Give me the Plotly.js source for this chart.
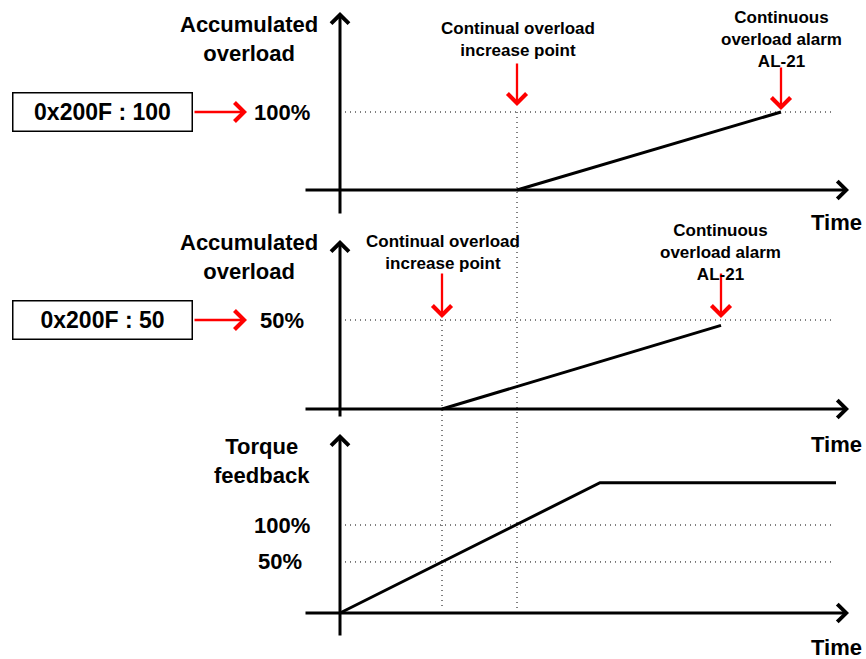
<!DOCTYPE html>
<html><head><meta charset="utf-8">
<script src="https://cdn.plot.ly/plotly-3.0.1.min.js"></script>
<style>html,body{margin:0;padding:0;background:#fff}#chart{width:866px;height:659px}</style>
</head><body><div id="chart"></div>
<script>
// ---------------- data ----------------
// time in schematic units (origin = vertical axis)
const overload100Time  = [17.7, 44.1];
const overload100Value = [0, 100];          // % accumulated overload, setting 100
const overload50Time   = [10.2, 38.1];
const overload50Value  = [0, 47];           // % accumulated overload, setting 50
const torqueTime   = [0, 26.0, 49.6];
const torqueValue  = [0, 148, 148];         // torque feedback (100% level = 100)
const torqueLevels = [58, 100];             // drawn heights of the 50% / 100% guides
const torqueLevelLabels = ["50%", "100%"];
const overloadLevels = [100, 50];
const overloadLevelLabels = ["100%", "50%"];
const settingLabels = ["0x200F : 100", "0x200F : 50"];
const increasePointTimes = [17.7, 10.2];
const alarmTimes = [44.1, 38.1];
const yTitles = ["Accumulated<br>overload", "Accumulated<br>overload", "Torque<br>feedback"];
const xTitle = "Time";
const increaseText = "Continual overload<br>increase point";
const alarmText = "Continuous<br>overload alarm<br>AL-21";

// ---------------- layout geometry ----------------
const W = 866, H = 659;
const X0 = 340, PXT = 10;
const zeroPx = [190, 409, 613];
const ppu = [0.78, 1.78, 0.88];
const yRefs = ['y', 'y2', 'y3'];
const axisTopPx = [12, 240, 434], axisBottomPx = [215, 418, 637];
const xAxisLeftPx = 304, xAxisRightPx = 849;
const FONT = 'Liberation Sans, Arial, Helvetica, sans-serif';

const pxToT = px => (px - X0) / PXT;
const pxToY = (i, py) => (zeroPx[i] - py) / ppu[i];
const yToPx = (i, v) => zeroPx[i] - v * ppu[i];
const yRange = i => [(zeroPx[i] - H) / ppu[i], zeroPx[i] / ppu[i]];
const P = (x, y) => ({x: x / W, y: 1 - y / H});

const dotted = {color: '#000', width: 1, dash: '1px,4px'};
const solid = {color: '#000', width: 3};
const guideStart = pxToT(345), guideEnd = pxToT(833);

const traces = [];
// horizontal level guides
traces.push({x: [guideStart, guideEnd], y: [overloadLevels[0], overloadLevels[0]], yaxis: 'y', mode: 'lines', line: dotted});
traces.push({x: [guideStart, guideEnd], y: [overloadLevels[1], overloadLevels[1]], yaxis: 'y2', mode: 'lines', line: dotted});
torqueLevels.forEach(v => traces.push({x: [guideStart, guideEnd], y: [v, v], yaxis: 'y3', mode: 'lines', line: dotted}));
// vertical marker guides down to torque axis
const bottomPx = yToPx(2, 0) - 3;
traces.push({x: [increasePointTimes[0], increasePointTimes[0]], y: [overloadLevels[0], pxToY(0, bottomPx)], yaxis: 'y', mode: 'lines', line: dotted});
traces.push({x: [increasePointTimes[1], increasePointTimes[1]], y: [overloadLevels[1], pxToY(1, bottomPx)], yaxis: 'y2', mode: 'lines', line: dotted});
// solid series
traces.push({x: overload100Time, y: overload100Value, yaxis: 'y', mode: 'lines', line: solid});
traces.push({x: overload50Time, y: overload50Value, yaxis: 'y2', mode: 'lines', line: solid});
traces.push({x: torqueTime, y: torqueValue, yaxis: 'y3', mode: 'lines', line: solid});

const ann = [];
function arrow(i, x, y, ax, ay, color, width, size) {
  ann.push({xref: 'x', yref: yRefs[i], axref: 'x', ayref: yRefs[i], x: x, y: y, ax: ax, ay: ay,
    text: '', showarrow: true, arrowhead: 4, arrowcolor: color, arrowwidth: width, arrowsize: size, standoff: 0, startstandoff: 0});
}
function txt(px, py, text, size, xanchor) {
  const p = P(px, py);
  ann.push({xref: 'paper', yref: 'paper', x: p.x, y: p.y, text: text, showarrow: false,
    xanchor: xanchor || 'center', yanchor: 'middle', align: 'center',
    font: {family: FONT, size: size, color: '#000'}});
}
// axes with arrows
for (let i = 0; i < 3; i++) {
  arrow(i, 0, pxToY(i, axisTopPx[i]), 0, pxToY(i, axisBottomPx[i]), '#000', 3, 1.15);
  arrow(i, pxToT(xAxisRightPx), 0, pxToT(xAxisLeftPx), 0, '#000', 3, 1.15);
}
// red markers
const incTip = [[106, 62], [318, 272]], alarmTip = [[110, 66], [318, 272]];
for (let i = 0; i < 2; i++) {
  arrow(i, increasePointTimes[i], pxToY(i, incTip[i][0]), increasePointTimes[i], pxToY(i, incTip[i][1]), '#ff0000', 2.3, 1.6);
  arrow(i, alarmTimes[i], pxToY(i, alarmTip[i][0]), alarmTimes[i], pxToY(i, alarmTip[i][1]), '#ff0000', 2.3, 1.6);
  arrow(i, pxToT(247), overloadLevels[i], pxToT(193), overloadLevels[i], '#ff0000', 2.3, 1.6);
  // setting boxes
  ann.push({xref: 'x', yref: yRefs[i], x: pxToT(102.5), y: overloadLevels[i], text: '<b>' + settingLabels[i] + '</b>',
    showarrow: false, xanchor: 'center', yanchor: 'middle', width: 178, height: 37, borderpad: 0,
    bordercolor: '#000', borderwidth: 1.5, bgcolor: '#fff', font: {family: FONT, size: 23, color: '#000'}});
}
// level labels
const levelRight = [312, 306];
for (let i = 0; i < 2; i++) {
  ann.push({xref: 'paper', yref: yRefs[i], x: levelRight[i] / W, y: overloadLevels[i], text: '<b>' + overloadLevelLabels[i] + '</b>',
    showarrow: false, xanchor: 'right', yanchor: 'middle', font: {family: FONT, size: 22, color: '#000'}});
}
const torqueRight = [304, 312];
torqueLevels.forEach((v, k) => ann.push({xref: 'paper', yref: 'y3', x: torqueRight[k] / W, y: v, text: '<b>' + torqueLevelLabels[k] + '</b>',
  showarrow: false, xanchor: 'right', yanchor: 'middle', font: {family: FONT, size: 22, color: '#000'}}));
// titles
const titlePos = [[249, 39], [249, 257], [262, 461]];
yTitles.forEach((t, i) => txt(titlePos[i][0], titlePos[i][1], '<b>' + t + '</b>', 22));
[222, 444, 647].forEach(py => txt(836, py, '<b>' + xTitle + '</b>', 22));
txt(518, 39, '<b>' + increaseText + '</b>', 17);
txt(781, 39, '<b>' + alarmText + '</b>', 17);
txt(443, 252, '<b>' + increaseText + '</b>', 17);
txt(720, 252, '<b>' + alarmText + '</b>', 17);

const hidden = {showgrid: false, zeroline: false, showticklabels: false, showline: false, ticks: ''};
const layout = {
  width: W, height: H, margin: {l: 0, r: 0, t: 0, b: 0},
  paper_bgcolor: '#fff', plot_bgcolor: 'rgba(0,0,0,0)', showlegend: false,
  xaxis: Object.assign({range: [pxToT(0), pxToT(W)], domain: [0, 1]}, hidden),
  yaxis: Object.assign({range: yRange(0), domain: [0, 1]}, hidden),
  yaxis2: Object.assign({range: yRange(1), overlaying: 'y'}, hidden),
  yaxis3: Object.assign({range: yRange(2), overlaying: 'y'}, hidden),
  annotations: ann,
  font: {family: FONT}
};
Plotly.newPlot('chart', traces, layout, {staticPlot: true, displayModeBar: false});
</script>
</body></html>
